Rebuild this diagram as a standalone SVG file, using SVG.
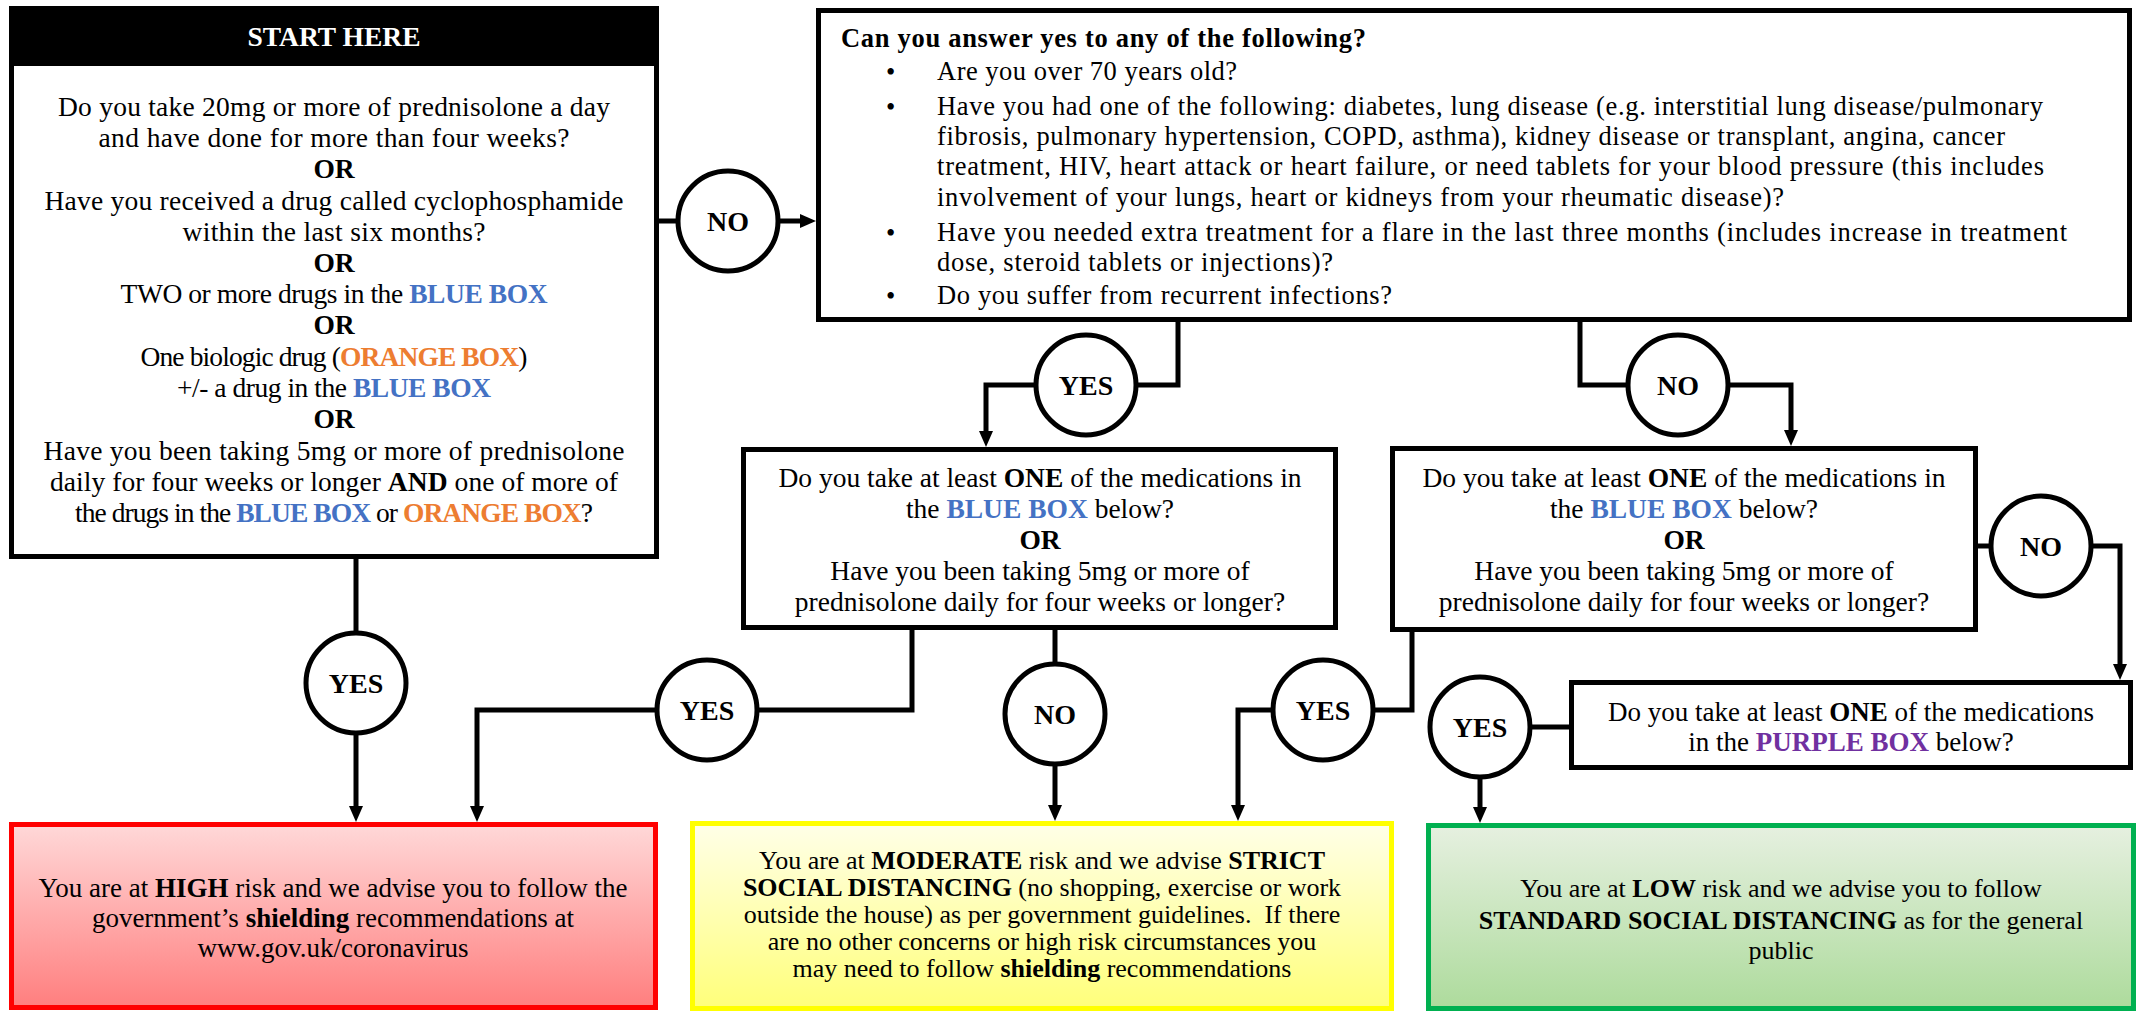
<svg xmlns="http://www.w3.org/2000/svg" width="2145" height="1012" viewBox="0 0 2145 1012">
<defs>
<linearGradient id="gRed" x1="0" y1="0" x2="0" y2="1"><stop offset="0" stop-color="#ffd8d8"/><stop offset="1" stop-color="#ff7e7e"/></linearGradient>
<linearGradient id="gYel" x1="0" y1="0" x2="0" y2="1"><stop offset="0" stop-color="#ffffe8"/><stop offset="1" stop-color="#ffff7a"/></linearGradient>
<linearGradient id="gGrn" x1="0" y1="0" x2="0" y2="1"><stop offset="0" stop-color="#e6f0e0"/><stop offset="1" stop-color="#addb9c"/></linearGradient>
<marker id="arr" viewBox="0 0 16 16" refX="6" refY="8" markerWidth="16" markerHeight="16" markerUnits="userSpaceOnUse" orient="auto"><path d="M0,1 L16,8 L0,15 z" fill="#000"/></marker>
</defs>
<style>
text{font-family:"Liberation Serif","Times New Roman",serif;font-size:26px;fill:#000}
.c{text-anchor:middle}
.b{font-weight:bold}
.blue{fill:#4472c4;font-weight:bold}
.orange{fill:#ed7d31;font-weight:bold}
.purple{fill:#7030a0;font-weight:bold}
.box{fill:#fff;stroke:#000;stroke-width:5}
.circ{fill:#fff;stroke:#000;stroke-width:5}
.lbl{font-weight:bold;font-size:28px;text-anchor:middle}
.con path{fill:none;stroke:#000;stroke-width:5}
.arrow{marker-end:url(#arr)}
.s text{font-size:27.5px}
.q text{font-size:26.5px}
.m text{font-size:27.5px}
.p text{font-size:27px}
.r text{font-size:27px}
.bul{font-size:30px}
</style>

<g id="start" class="s">
<rect class="box" x="11.5" y="8.5" width="645" height="548"/>
<rect x="9" y="6" width="650" height="60" fill="#000"/>
<text class="c b" x="334" y="46" style="fill:#fff">START HERE</text>
<text class="c" x="334" y="116" textLength="552">Do you take 20mg or more of prednisolone a day</text>
<text class="c" x="334" y="147" textLength="471">and have done for more than four weeks?</text>
<text class="c b" x="334" y="178">OR</text>
<text class="c" x="334" y="210" textLength="579">Have you received a drug called cyclophosphamide</text>
<text class="c" x="334" y="241" textLength="303">within the last six months?</text>
<text class="c b" x="334" y="272">OR</text>
<text class="c" x="334" y="303" textLength="427">TWO or more drugs in the <tspan class="blue">BLUE BOX</tspan></text>
<text class="c b" x="334" y="334">OR</text>
<text class="c" x="334" y="366" textLength="387">One biologic drug (<tspan class="orange">ORANGE BOX</tspan>)</text>
<text class="c" x="334" y="397" textLength="314">+/- a drug in the <tspan class="blue">BLUE BOX</tspan></text>
<text class="c b" x="334" y="428">OR</text>
<text class="c" x="334" y="460" textLength="581">Have you been taking 5mg or more of prednisolone</text>
<text class="c" x="334" y="491" textLength="568">daily for four weeks or longer <tspan class="b">AND</tspan> one of more of</text>
<text class="c" x="334" y="522" textLength="518">the drugs in the <tspan class="blue">BLUE BOX</tspan> or <tspan class="orange">ORANGE BOX</tspan>?</text>
</g>

<g id="question" class="q">
<rect class="box" x="818.5" y="10.5" width="1311" height="309"/>
<text class="b" x="841" y="47" textLength="525">Can you answer yes to any of the following?</text>
<text class="bul" x="886" y="81">•</text>
<text x="937" y="80" textLength="300">Are you over 70 years old?</text>
<text class="bul" x="886" y="116">•</text>
<text x="937" y="115" textLength="1106">Have you had one of the following: diabetes, lung disease (e.g. interstitial lung disease/pulmonary</text>
<text x="937" y="145" textLength="1068">fibrosis, pulmonary hypertension, COPD, asthma), kidney disease or transplant, angina, cancer</text>
<text x="937" y="175" textLength="1107">treatment, HIV, heart attack or heart failure, or need tablets for your blood pressure (this includes</text>
<text x="937" y="206" textLength="847">involvement of your lungs, heart or kidneys from your rheumatic disease)?</text>
<text class="bul" x="886" y="242">•</text>
<text x="937" y="241" textLength="1130">Have you needed extra treatment for a flare in the last three months (includes increase in treatment</text>
<text x="937" y="271" textLength="396">dose, steroid tablets or injections)?</text>
<text class="bul" x="886" y="305">•</text>
<text x="937" y="304" textLength="455">Do you suffer from recurrent infections?</text>
</g>

<g id="mid-question" class="m">
<rect class="box" x="743.5" y="449.5" width="592" height="178"/>
<text class="c" x="1040" y="487">Do you take at least <tspan class="b">ONE</tspan> of the medications in</text>
<text class="c" x="1040" y="518">the <tspan class="blue">BLUE BOX</tspan> below?</text>
<text class="c b" x="1040" y="549">OR</text>
<text class="c" x="1040" y="580">Have you been taking 5mg or more of</text>
<text class="c" x="1040" y="611">prednisolone daily for four weeks or longer?</text>
</g>

<g id="right-question" class="m">
<rect class="box" x="1392.5" y="448.5" width="583" height="181"/>
<text class="c" x="1684" y="487">Do you take at least <tspan class="b">ONE</tspan> of the medications in</text>
<text class="c" x="1684" y="518">the <tspan class="blue">BLUE BOX</tspan> below?</text>
<text class="c b" x="1684" y="549">OR</text>
<text class="c" x="1684" y="580">Have you been taking 5mg or more of</text>
<text class="c" x="1684" y="611">prednisolone daily for four weeks or longer?</text>
</g>

<g id="purple-question" class="p">
<rect class="box" x="1571.5" y="682.5" width="559" height="85"/>
<text class="c" x="1851" y="721">Do you take at least <tspan class="b">ONE</tspan> of the medications</text>
<text class="c" x="1851" y="751">in the <tspan class="purple">PURPLE BOX</tspan> below?</text>
</g>

<g id="high-risk" class="r">
<rect x="11.5" y="824.5" width="644" height="183" fill="url(#gRed)" stroke="#ff0000" stroke-width="5"/>
<text class="c" x="333" y="897">You are at <tspan class="b">HIGH</tspan> risk and we advise you to follow the</text>
<text class="c" x="333" y="927">government’s <tspan class="b">shielding</tspan> recommendations at</text>
<text class="c" x="333" y="957">www.gov.uk/coronavirus</text>
</g>

<g id="moderate-risk">
<rect x="692.5" y="823.5" width="699" height="185" fill="url(#gYel)" stroke="#ffff00" stroke-width="5"/>
<text class="c" x="1042" y="869">You are at <tspan class="b">MODERATE</tspan> risk and we advise <tspan class="b">STRICT</tspan></text>
<text class="c" x="1042" y="896"><tspan class="b">SOCIAL DISTANCING</tspan> (no shopping, exercise or work</text>
<text class="c" x="1042" y="923" xml:space="preserve">outside the house) as per government guidelines.  If there</text>
<text class="c" x="1042" y="950">are no other concerns or high risk circumstances you</text>
<text class="c" x="1042" y="977">may need to follow <tspan class="b">shielding</tspan> recommendations</text>
</g>

<g id="low-risk">
<rect x="1428.5" y="825.5" width="705" height="183" fill="url(#gGrn)" stroke="#00b050" stroke-width="5"/>
<text class="c" x="1781" y="897">You are at <tspan class="b">LOW</tspan> risk and we advise you to follow</text>
<text class="c" x="1781" y="929"><tspan class="b">STANDARD SOCIAL DISTANCING</tspan> as for the general</text>
<text class="c" x="1781" y="959">public</text>
</g>

<g id="connectors" class="con">
<path d="M656,221 H678"/>
<path class="arrow" d="M778,221 H806"/>
<path d="M1178,320 V385 H1136"/>
<path class="arrow" d="M1036,385 H986 V437"/>
<path d="M1580,320 V385 H1628"/>
<path class="arrow" d="M1728,385 H1791 V436"/>
<path d="M356,556 V633"/>
<path class="arrow" d="M356,733 V812"/>
<path d="M912,628 V710 H757"/>
<path class="arrow" d="M657,710 H477 V812"/>
<path d="M1055,628 V664"/>
<path class="arrow" d="M1055,764 V811"/>
<path d="M1412,630 V710 H1373"/>
<path class="arrow" d="M1273,710 H1238 V811"/>
<path d="M1976,546 H1991"/>
<path class="arrow" d="M2091,546 H2120 V670"/>
<path d="M1570,727 H1530"/>
<path class="arrow" d="M1480,777 V813"/>
</g>

<g id="lbl-no-1"><circle class="circ" cx="728" cy="221" r="50"/><text class="lbl" x="728" y="231">NO</text></g>
<g id="lbl-yes-a"><circle class="circ" cx="1086" cy="385" r="50"/><text class="lbl" x="1086" y="395">YES</text></g>
<g id="lbl-no-b"><circle class="circ" cx="1678" cy="385" r="50"/><text class="lbl" x="1678" y="395">NO</text></g>
<g id="lbl-yes-start"><circle class="circ" cx="356" cy="683" r="50"/><text class="lbl" x="356" y="693">YES</text></g>
<g id="lbl-yes-c"><circle class="circ" cx="707" cy="710" r="50"/><text class="lbl" x="707" y="720">YES</text></g>
<g id="lbl-no-c"><circle class="circ" cx="1055" cy="714" r="50"/><text class="lbl" x="1055" y="724">NO</text></g>
<g id="lbl-yes-d"><circle class="circ" cx="1323" cy="710" r="50"/><text class="lbl" x="1323" y="720">YES</text></g>
<g id="lbl-no-d"><circle class="circ" cx="2041" cy="546" r="50"/><text class="lbl" x="2041" y="556">NO</text></g>
<g id="lbl-yes-e"><circle class="circ" cx="1480" cy="727" r="50"/><text class="lbl" x="1480" y="737">YES</text></g>
</svg>
